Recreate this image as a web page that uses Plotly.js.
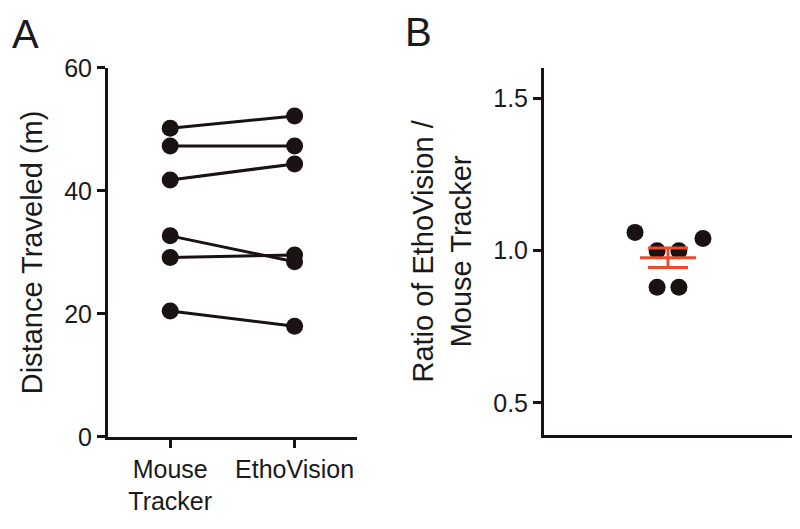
<!DOCTYPE html>
<html>
<head>
<meta charset="utf-8">
<script src="https://cdn.plot.ly/plotly-3.0.1.min.js"></script>
<style>html,body{margin:0;padding:0;background:#fff;}#chart{width:800px;height:529px;}</style>
</head>
<body>
<div id="chart"></div>
<script>
// ---- Data ----
var categories = ['Mouse<br>Tracker', 'EthoVision'];
var mouseTracker = [50.2, 47.3, 41.8, 32.7, 29.2, 20.5];
var ethoVision   = [52.2, 47.3, 44.4, 28.5, 29.6, 18.0];
var yTicksA = [0, 20, 40, 60];

var ratios  = [1.06, 1.00, 1.00, 1.04, 0.88, 0.88];
var swarmX  = [0.367, 0.456, 0.544, 0.641, 0.456, 0.544];
var yTicksB = [0.5, 1.0, 1.5];

// ---- Derived stats ----
var n = ratios.length;
var mean = ratios.reduce(function(a,b){return a+b;},0)/n;
var sd = Math.sqrt(ratios.reduce(function(a,b){return a+(b-mean)*(b-mean);},0)/(n-1));
var sem = sd/Math.sqrt(n);

var ink = '#1a1212';
var red = '#ee4a2c';
var fontFam = 'Liberation Sans, Arial, Helvetica, sans-serif';

var traces = [];
for (var i = 0; i < mouseTracker.length; i++) {
  traces.push({
    x: categories, y: [mouseTracker[i], ethoVision[i]],
    xaxis: 'x', yaxis: 'y', type: 'scatter', mode: 'lines+markers',
    line: {color: ink, width: 3}, marker: {color: ink, size: 17},
    showlegend: false, hoverinfo: 'y', cliponaxis: false
  });
}
traces.push({
  x: swarmX, y: ratios, xaxis: 'x2', yaxis: 'y2', type: 'scatter', mode: 'markers',
  marker: {color: ink, size: 17}, showlegend: false, cliponaxis: false
});
// mean line
traces.push({
  x: [0.387, 0.613], y: [mean, mean], xaxis: 'x2', yaxis: 'y2', type: 'scatter', mode: 'lines',
  line: {color: red, width: 3}, showlegend: false, hoverinfo: 'skip'
});
// SEM error bar
traces.push({
  x: [0.5], y: [mean], xaxis: 'x2', yaxis: 'y2', type: 'scatter', mode: 'markers',
  marker: {size: 1, color: 'rgba(0,0,0,0)'},
  error_y: {type: 'data', array: [sem], symmetric: true, color: red, thickness: 3, width: 20},
  showlegend: false, hoverinfo: 'skip'
});

var axisCommon = {
  showline: true, linecolor: ink, linewidth: 3, showgrid: false, zeroline: false,
  ticks: 'outside', ticklen: 8, tickwidth: 3, tickcolor: ink,
  tickfont: {size: 25, color: '#1a1a1a', family: fontFam}
};

var layout = {
  width: 800, height: 529,
  margin: {l: 0, r: 0, t: 0, b: 0},
  paper_bgcolor: '#fff', plot_bgcolor: '#fff',
  font: {family: fontFam, color: '#1a1a1a'},
  xaxis: Object.assign({}, axisCommon, {
    domain: [0.135, 0.446], anchor: 'y', type: 'category',
    range: [-0.5, 1.5], tickfont: {size: 25, color: '#1a1a1a', family: fontFam}
  }),
  yaxis: Object.assign({}, axisCommon, {
    domain: [0.174, 0.8715], anchor: 'x', range: [0, 60], tickvals: yTicksA,
    title: {text: 'Distance Traveled (m)', font: {size: 29, color: '#1a1a1a', family: fontFam}, standoff: 14}
  }),
  xaxis2: Object.assign({}, axisCommon, {
    domain: [0.68, 0.99], anchor: 'y2', range: [0, 1], ticks: '', showticklabels: false
  }),
  yaxis2: Object.assign({}, axisCommon, {
    domain: [0.178, 0.8715], anchor: 'x2', range: [0.395, 1.6], tickvals: yTicksB, tickformat: '.1f',
    title: {text: 'Ratio of EthoVision /<br>Mouse Tracker', font: {size: 29, color: '#1a1a1a', family: fontFam}, standoff: 14}
  }),
  annotations: [
    {text: 'A', x: 25/800, y: 1 - 34/529, xref: 'paper', yref: 'paper', showarrow: false,
     xanchor: 'center', yanchor: 'middle', font: {size: 40, color: '#1a1a1a', family: fontFam}},
    {text: 'B', x: 418/800, y: 1 - 32/529, xref: 'paper', yref: 'paper', showarrow: false,
     xanchor: 'center', yanchor: 'middle', font: {size: 40, color: '#1a1a1a', family: fontFam}}
  ]
};

Plotly.newPlot('chart', traces, layout, {displayModeBar: false, staticPlot: true});
</script>
</body>
</html>
